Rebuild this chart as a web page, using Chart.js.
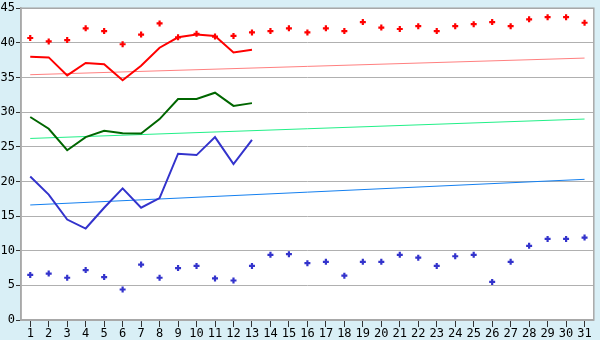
<!DOCTYPE html>
<html>
<head>
<meta charset="utf-8">
<script src="https://cdn.jsdelivr.net/npm/chart.js@4"></script>
<style>
html,body{margin:0;padding:0;background:#d9eff6;}
#wrap{width:600px;height:340px;position:relative;}
</style>
</head>
<body>
<div id="wrap"><canvas id="c" width="600" height="340"></canvas></div>
<script>
const days = ['1','2','3','4','5','6','7','8','9','10','11','12','13','14','15','16','17','18','19','20','21','22','23','24','25','26','27','28','29','30','31'];
const yTicks = [0,5,10,15,20,25,30,35,40,45];

const redDots = [40.7,40.2,40.4,42.1,41.7,39.8,41.2,42.8,40.8,41.3,40.9,41.0,41.5,41.7,42.1,41.5,42.1,41.7,43.0,42.2,42.0,42.4,41.7,42.4,42.7,43.0,42.4,43.4,43.7,43.7,42.9];
const blueDots = [6.5,6.7,6.1,7.2,6.2,4.4,8.0,6.1,7.5,7.8,6.0,5.7,7.8,9.4,9.5,8.2,8.4,6.4,8.4,8.4,9.4,9.0,7.8,9.2,9.4,5.5,8.4,10.7,11.7,11.7,11.9];

const redLine = [38.0,37.9,35.3,37.1,36.9,34.6,36.7,39.3,40.8,41.2,41.0,38.6,39.0];
const greenLine = [29.3,27.6,24.5,26.4,27.3,26.95,26.9,29.0,31.9,31.9,32.8,30.9,31.3];
const blueLine = [20.7,18.1,14.5,13.2,16.2,19.0,16.2,17.6,24.0,23.8,26.4,22.5,26.0];

const trendRed = [35.4, 37.8];
const trendGreen = [26.2, 29.0];
const trendBlue = [16.6, 20.3];

function ends(v){ return [{x:days[0],y:v[0]},{x:days[days.length-1],y:v[1]}]; }

const bgPlugin = {
  id:'bg',
  beforeDraw(chart){
    const {ctx, chartArea:a} = chart;
    ctx.save();
    ctx.fillStyle='#d9eff6';
    ctx.fillRect(0,0,chart.width,chart.height);
    ctx.fillStyle='#ffffff';
    ctx.fillRect(a.left,a.top,a.right-a.left,a.bottom-a.top);
    ctx.restore();
  },
  afterDraw(chart){
    const {ctx, chartArea:a} = chart;
    ctx.save();
    ctx.strokeStyle='#a8a8a8';
    ctx.lineWidth=1.5;
    ctx.strokeRect(a.left,a.top,a.right-a.left,a.bottom-a.top);
    ctx.restore();
  }
};

new Chart(document.getElementById('c'),{
  type:'line',
  data:{
    labels:days,
    datasets:[
      {data:ends(trendRed),borderColor:'#ff8080',borderWidth:1,pointRadius:0,order:5},
      {data:ends(trendGreen),borderColor:'#22f088',borderWidth:1,pointRadius:0,order:5},
      {data:ends(trendBlue),borderColor:'#1480f0',borderWidth:1,pointRadius:0,order:5},
      {data:redLine,borderColor:'#ff0000',borderWidth:2,pointRadius:0,tension:0,order:2},
      {data:greenLine,borderColor:'#006600',borderWidth:2,pointRadius:0,tension:0,order:2},
      {data:blueLine,borderColor:'#3333cc',borderWidth:2,pointRadius:0,tension:0,order:2},
      {data:redDots,showLine:false,pointStyle:'cross',pointRadius:3,pointBorderWidth:2.2,pointBorderColor:'#ff0000',pointBackgroundColor:'#ff0000',borderColor:'#ff0000',order:1},
      {data:blueDots,showLine:false,pointStyle:'cross',pointRadius:3,pointBorderWidth:2.2,pointBorderColor:'#3333cc',pointBackgroundColor:'#3333cc',borderColor:'#3333cc',order:1}
    ]
  },
  options:{
    responsive:false,
    animation:false,
    layout:{padding:{top:5,right:5,left:0,bottom:0}},
    plugins:{legend:{display:false},tooltip:{enabled:false}},
    scales:{
      x:{
        type:'category',
        offset:true,
        grid:{drawOnChartArea:false,offset:false,tickLength:7,color:'#333333',lineWidth:1},
        border:{display:true,color:'#a8a8a8',width:1.5},
        ticks:{color:'#000',font:{family:'DejaVu Sans Mono',size:12},padding:0,maxRotation:0,autoSkip:false},
        afterFit(s){s.height=20;}
      },
      y:{
        min:0,max:45,
        afterBuildTicks(s){s.ticks=yTicks.map(v=>({value:v}));},
        grid:{color:'#b0b0b0',lineWidth:1,tickLength:5,tickColor:'#333333'},
        border:{display:true,color:'#a8a8a8',width:1.5},
        ticks:{color:'#000',font:{family:'DejaVu Sans Mono',size:12},padding:1},
        afterFit(s){s.width=21;}
      }
    }
  },
  plugins:[bgPlugin]
});
</script>
</body>
</html>
